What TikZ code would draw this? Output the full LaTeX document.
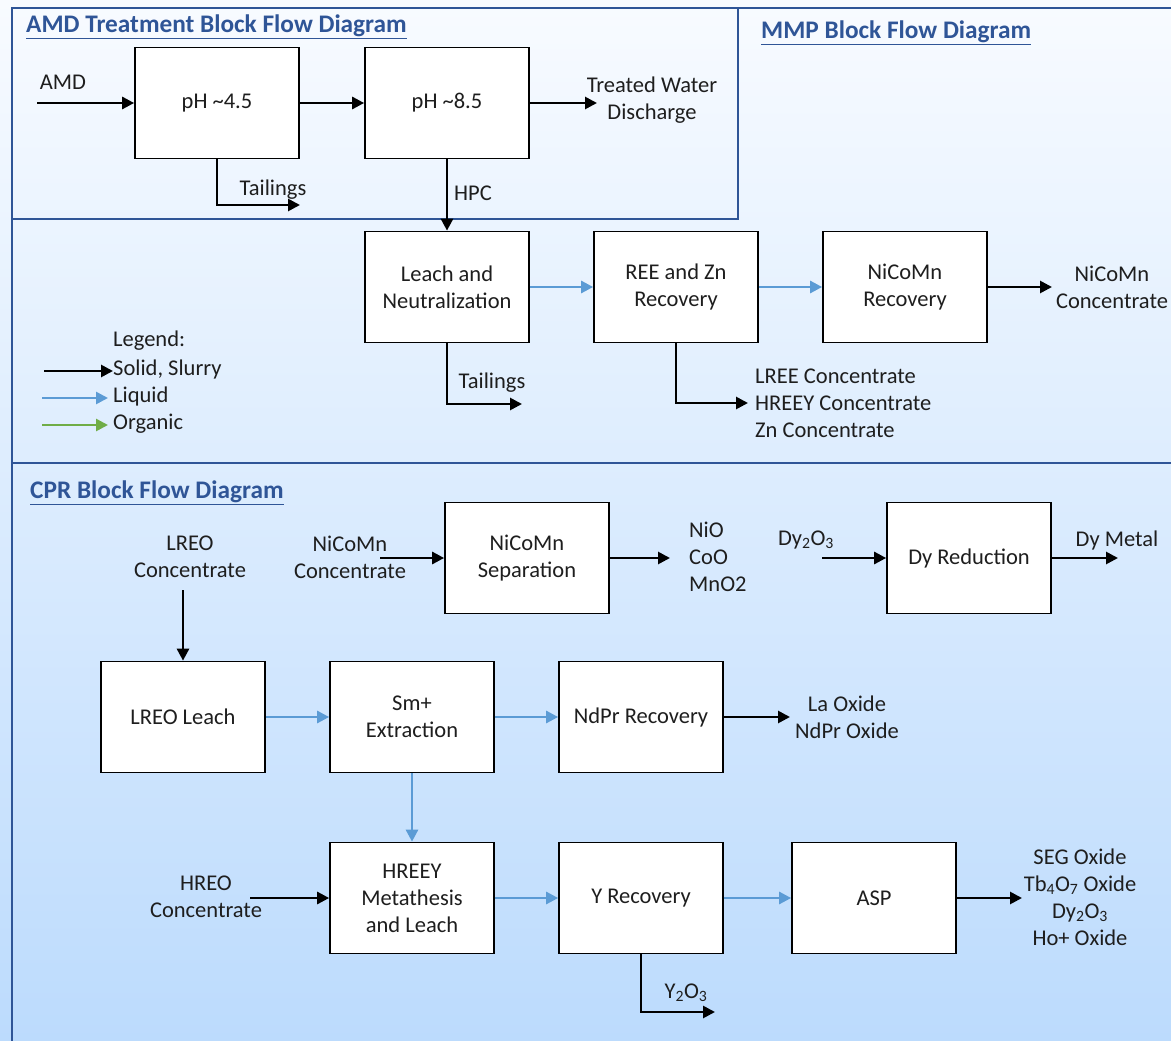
\documentclass[tikz,border=0pt]{standalone}
\usepackage{fontspec}
\setmainfont{Carlito}
\usetikzlibrary{arrows.meta}
\definecolor{frameblue}{HTML}{2F5597}
\definecolor{liq}{HTML}{5B9BD5}
\definecolor{org}{HTML}{70AD47}
\definecolor{bgtop}{HTML}{F8FBFF}
\definecolor{bgbot}{HTML}{BCDBFD}
\definecolor{txt}{HTML}{1E1E1E}
\begin{document}
\begin{tikzpicture}[x=1pt,y=-1pt,
  font=\fontsize{22.5}{27}\selectfont,
  box/.style={draw=black,line width=1.7pt,fill=white,minimum width=164pt,minimum height=111pt,align=center,inner sep=0pt,text=txt},
  lbl/.style={align=center,inner sep=0pt,text=txt},
  ttl/.style={anchor=west,inner sep=0pt,text=frameblue,font=\fontsize{25.3}{28}\selectfont\bfseries},
  sarrow/.style={draw=black,line width=2.7pt,-{Triangle[length=12pt,width=12pt]}},
  larrow/.style={draw=liq,line width=2.6pt,-{Triangle[length=12pt,width=12pt]}},
  oarrow/.style={draw=org,line width=2.6pt,-{Triangle[length=12pt,width=12pt]}},
  frame/.style={draw=frameblue,line width=1.8pt}
]
\useasboundingbox (0,0) rectangle (1171,1041);
\shade[top color=bgtop,bottom color=bgbot] (0,0) rectangle (1171,1041);
% frames
\draw[frame] (12,1045) -- (12,8) -- (1175,8);
\draw[frame] (12,219) -- (738,219) -- (738,8);
\draw[frame] (12,463) -- (1175,463);
% titles
\node[ttl] (tamd) at (26,27) {\underline{AMD Treatment Block Flow Diagram}};
\node[ttl] (tmmp) at (761,33) {\underline{MMP Block Flow Diagram}};
\node[ttl] (tcpr) at (30,493) {\underline{CPR Block Flow Diagram}};

% AMD section
\node[lbl] (amdl) at (63,82) {AMD};
\coordinate (amds) at (37,103);
\node[box] (b1) at (217,103) {pH \textasciitilde4.5};
\node[box] (b2) at (447,103) {pH \textasciitilde8.5};
\node[lbl] (twl) at (652,100) {Treated Water\\Discharge};
\coordinate (twe) at (597,103);
\node[lbl] (tl1) at (273,190) {Tailings};
\coordinate (t1e) at (300,205);
\node[lbl] (hpc) at (473,193) {HPC};
\draw[sarrow] (amds) -- (b1);
\draw[sarrow] (b1) -- (b2);
\draw[sarrow] (b2) -- (twe);
\draw[sarrow] (b1) |- (t1e);

% MMP section
\node[box] (b3) at (447,287) {Leach and\\Neutralization};
\node[box] (b4) at (676,287) {REE and Zn\\Recovery};
\node[box] (b5) at (905,287) {NiCoMn\\Recovery};
\draw[sarrow] (b2) -- (b3);
\draw[larrow] (b3) -- (b4);
\draw[larrow] (b4) -- (b5);
\coordinate (nce) at (1052,287);
\node[lbl] (ncl) at (1112,287) {NiCoMn\\Concentrate};
\draw[sarrow] (b5) -- (nce);
\node[lbl] (tl2) at (492,383) {Tailings};
\coordinate (t2e) at (522,404);
\draw[sarrow] (b3) |- (t2e);
\coordinate (ree) at (748,403);
\node[lbl,anchor=west,align=left] (reel) at (755,403) {LREE Concentrate\\HREEY Concentrate\\Zn Concentrate};
\draw[sarrow] (b4) |- (ree);

% legend
\node[lbl,anchor=west] (lg) at (113,341) {Legend:};
\node[lbl,anchor=west] (lg1) at (113,369) {Solid, Slurry};
\node[lbl,anchor=west] (lg2) at (113,396) {Liquid};
\node[lbl,anchor=west] (lg3) at (113,424) {Organic};
\coordinate (lg1s) at (44,371);
\coordinate (lg2s) at (42,398);
\coordinate (lg3s) at (42,425);
\draw[sarrow] (lg1s) -- (lg1.west |- lg1s);
\draw[larrow] (lg2s) -- ([xshift=-5pt]lg2.west |- lg2s);
\draw[oarrow] (lg3s) -- ([xshift=-5pt]lg3.west |- lg3s);

% CPR section
\node[lbl] (lreoc) at (190,557) {LREO\\Concentrate};
\coordinate (lreos) at (183,590);
\node[box] (lreo) at (183,717) {LREO Leach};
\node[box] (sm) at (412,717) {Sm+\\Extraction};
\node[box] (ndpr) at (641,717) {NdPr Recovery};
\draw[sarrow] (lreos) -- (lreo);
\draw[larrow] (lreo) -- (sm);
\draw[larrow] (sm) -- (ndpr);
\coordinate (ndpre) at (790,717);
\node[lbl] (laox) at (847,717) {La Oxide\\NdPr Oxide};
\draw[sarrow] (ndpr) -- (ndpre);

\node[box] (hreey) at (412,898) {HREEY\\Metathesis\\and Leach};
\node[box] (yrec) at (641,898) {Y Recovery};
\node[box] (asp) at (874,898) {ASP};
\draw[larrow] (sm) -- (hreey);
\draw[larrow] (hreey) -- (yrec);
\draw[larrow] (yrec) -- (asp);
\node[lbl] (hreoc) at (206,897) {HREO\\Concentrate};
\coordinate (hreos) at (250,898);
\draw[sarrow] (hreos) -- (hreey);
\coordinate (aspe) at (1022,898);
\node[lbl] (segl) at (1080,897) {SEG Oxide\\Tb\textsubscript{4}O\textsubscript{7} Oxide\\Dy\textsubscript{2}O\textsubscript{3}\\Ho+ Oxide};
\draw[sarrow] (asp) -- (aspe);
\node[lbl] (y2o3) at (686,993) {Y\textsubscript{2}O\textsubscript{3}};
\coordinate (ye) at (715,1012);
\draw[sarrow] (yrec) |- (ye);

\node[box] (nisep) at (527,558) {NiCoMn\\Separation};
\node[lbl] (nicoc) at (350,557) {NiCoMn\\Concentrate};
\coordinate (nicos) at (380,558);
\draw[sarrow] (nicos) -- (nisep);
\coordinate (nise) at (670,558);
\node[lbl,anchor=west,align=left] (niol) at (689,557) {NiO\\CoO\\MnO2};
\draw[sarrow] (nisep) -- (nise);

\node[box] (dy) at (969,558) {Dy Reduction};
\node[lbl] (dyo) at (806,540) {Dy\textsubscript{2}O\textsubscript{3}};
\coordinate (dys) at (822,558);
\draw[sarrow] (dys) -- (dy);
\coordinate (dye) at (1118,558);
\node[lbl] (dym) at (1117,540) {Dy Metal};
\draw[sarrow] (dy) -- (dye);
\end{tikzpicture}
\end{document}
